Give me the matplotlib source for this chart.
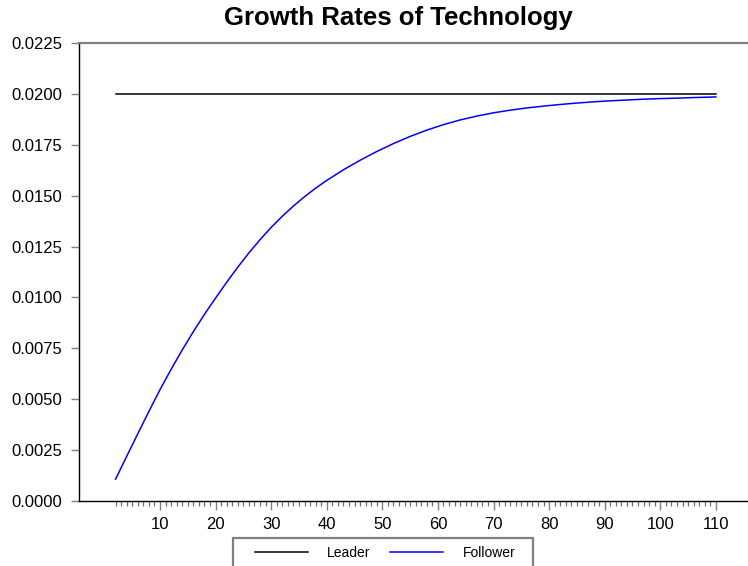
#!/usr/bin/env python3
"""
Growth rates of technology: leader vs follower
"""

import matplotlib
matplotlib.use('Agg')
import matplotlib.pyplot as plt
from matplotlib.patches import Rectangle
from matplotlib.ticker import FixedLocator

plt.rcParams['font.family'] = ['Liberation Sans', 'DejaVu Sans']

# Data
periods = [2, 4, 6, 8, 10, 12, 14, 16, 18, 20, 22, 24, 26, 28, 30, 32, 34, 36, 38, 40,
           43, 46, 49, 52, 55, 58, 61, 64, 67, 70, 73, 76, 79, 82, 85, 88, 91, 94,
           97, 100, 103, 106, 110]
follower = [0.00107, 0.00219, 0.00330, 0.00440, 0.00547, 0.00647, 0.00742, 0.00832,
            0.00917, 0.00997, 0.01075, 0.01149, 0.01219, 0.01284, 0.01344, 0.01399,
            0.01449, 0.01495, 0.01537, 0.01575, 0.01627, 0.01674, 0.01717, 0.01756,
            0.01791, 0.01822, 0.01849, 0.01872, 0.01891, 0.01907, 0.01920, 0.01931,
            0.01940, 0.01948, 0.01955, 0.01961, 0.01966, 0.01970, 0.01974, 0.01977,
            0.01979, 0.01982, 0.01985]
leader = [0.02] * len(periods)

y_ticks = [0.0, 0.0025, 0.005, 0.0075, 0.01, 0.0125, 0.015, 0.0175, 0.02, 0.0225]
x_ticks = [10, 20, 30, 40, 50, 60, 70, 80, 90, 100, 110]
x_minor = list(range(2, 111))

W, H = 748, 566
fig = plt.figure(figsize=(W / 100, H / 100), dpi=100)
ax = fig.add_axes([79 / W, 1 - 501 / H, (747 - 79) / W, (501 - 43) / H])

ax.plot(periods, leader, color='black', linewidth=1.1, label='Leader')
ax.plot(periods, follower, color='#0000FF', linewidth=1.1, label='Follower')

ax.set_xlim(-4.57, 115.6)
ax.set_ylim(0, 0.0225)

ax.set_yticks(y_ticks)
ax.set_yticklabels([f'{v:.4f}' for v in y_ticks])
ax.set_xticks(x_ticks)
ax.set_xticklabels([str(v) for v in x_ticks])
ax.xaxis.set_minor_locator(FixedLocator(x_minor))

ax.tick_params(axis='y', direction='out', length=6, width=1, color='#808080',
               labelsize=12, pad=6)
ax.tick_params(axis='x', which='major', direction='out', length=6.5, width=1,
               color='#808080', labelsize=12, pad=5)
ax.tick_params(axis='x', which='minor', direction='out', length=3.6, width=0.9,
               color='#707070')

ax.spines['right'].set_visible(False)
ax.spines['top'].set_color('#808080')
ax.spines['top'].set_linewidth(1.6)
ax.spines['left'].set_color('black')
ax.spines['bottom'].set_color('black')
ax.spines['left'].set_linewidth(1.0)
ax.spines['bottom'].set_linewidth(1.0)

fig.text(398 / W, 1 - 18 / H, 'Growth Rates of Technology', ha='center', va='center',
         fontsize=18.5, fontweight='bold')

# Legend frame runs off the bottom edge
frame = Rectangle((233 / W, 1 - 580 / H), 300 / W, 42 / H, transform=fig.transFigure,
                  fill=False, edgecolor='#808080', linewidth=1.6, clip_on=False)
fig.patches.append(frame)

fig.legend(loc='center left', bbox_to_anchor=(255 / W, 1 - 553 / H), ncol=2,
           frameon=False, borderpad=0, borderaxespad=0, fontsize=10,
           handlelength=3.8, handletextpad=1.4, columnspacing=1.4)

plt.savefig('out.png', dpi=100)
